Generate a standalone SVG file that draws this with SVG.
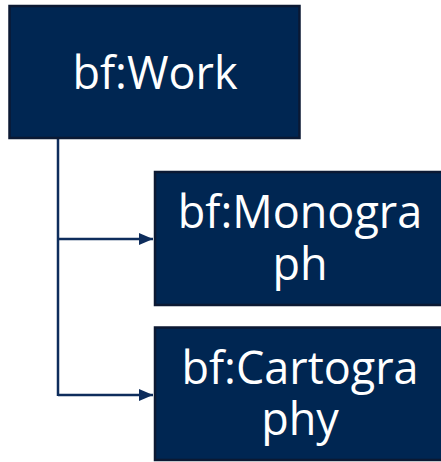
<svg xmlns="http://www.w3.org/2000/svg" width="441" height="462" viewBox="0 0 441 462">
<style>
.box{fill:#002652;stroke:#0b1933;stroke-width:2.5}
.lbl{font-family:"Open Sans","Noto Sans",sans-serif;font-size:45px;fill:#ffffff;text-anchor:middle}
.conn{fill:none;stroke:#0e2d5c;stroke-width:2.5}
</style>
<defs>
<marker id="arr" markerWidth="14" markerHeight="12" refX="14" refY="6" orient="auto" markerUnits="userSpaceOnUse">
<path d="M0,0 L14,6 L0,12 Z" fill="#0e2d5c"/>
</marker>
</defs>
<rect width="441" height="462" fill="#ffffff"/>
<g id="connectors">
<path class="conn" d="M58,138 V396"/>
<path class="conn" d="M58,239 H153" marker-end="url(#arr)"/>
<path class="conn" d="M58,395 H153" marker-end="url(#arr)"/>
</g>
<g id="work">
<rect class="box" x="9.5" y="6" width="290" height="132"/>
<text class="lbl" x="155" y="89">bf:Work</text>
</g>
<g id="monograph">
<rect class="box" x="155" y="172" width="292" height="133"/>
<text class="lbl" x="300" y="228">bf:Monogra<tspan x="300" y="280">ph</tspan></text>
</g>
<g id="cartography">
<rect class="box" x="155" y="327.5" width="292" height="132.5"/>
<text class="lbl" x="300" y="384">bf:Cartogra<tspan x="300" y="435">phy</tspan></text>
</g>
</svg>
